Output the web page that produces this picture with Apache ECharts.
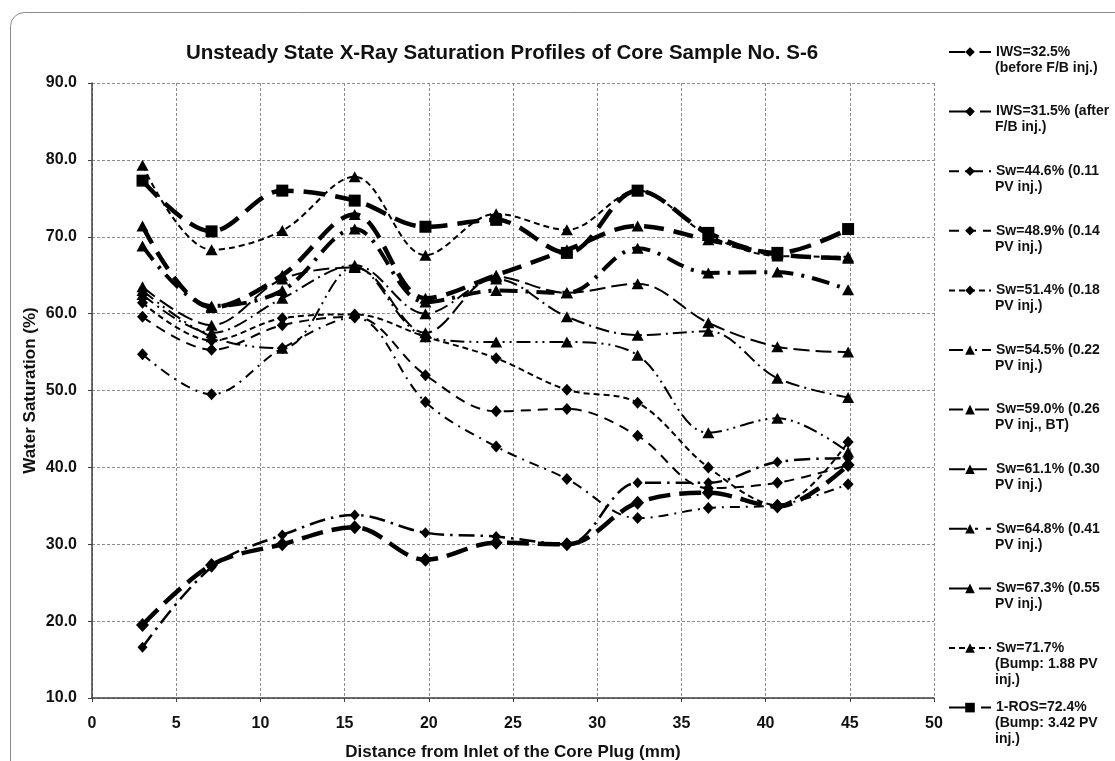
<!DOCTYPE html>
<html>
<head>
<meta charset="utf-8">
<script src="https://cdn.jsdelivr.net/npm/echarts@6/dist/echarts.min.js"></script>
<style>
  html, body { margin: 0; padding: 0; background: #fff; }
  #chart { width: 1115px; height: 761px; }
</style>
</head>
<body>
<div id="chart"></div>
<script>
// Sample positions along the core plug (mm)
const distances = [3.0, 7.1, 11.3, 15.6, 19.8, 24.0, 28.2, 32.4, 36.6, 40.7, 44.9];

// Water saturation (%) per profile
const iws325 = [16.6, 27.0, 31.2, 33.8, 31.5, 31.0, 30.0, 38.0, 38.0, 40.7, 41.2];
const iws315 = [19.5, 27.3, 30.0, 32.2, 28.0, 30.2, 30.0, 35.4, 36.7, 34.9, 40.3];
const sw446  = [54.7, 49.5, 55.5, 59.5, 48.5, 42.7, 38.5, 33.4, 34.7, 35.1, 37.8];
const sw489  = [59.6, 55.3, 58.5, 59.6, 52.0, 47.3, 47.6, 44.1, 37.3, 38.0, 40.3];
const sw514  = [61.4, 56.5, 59.4, 59.9, 57.0, 54.2, 50.1, 48.4, 40.0, 35.1, 43.3];
const sw545  = [63.0, 57.0, 55.5, 66.1, 57.0, 56.3, 56.3, 54.6, 44.5, 46.4, 42.0];
const sw590  = [62.5, 57.5, 62.0, 66.3, 60.0, 64.5, 59.6, 57.2, 57.7, 51.6, 49.1];
const sw611  = [63.5, 58.5, 64.5, 66.0, 57.5, 64.8, 62.7, 63.9, 58.8, 55.7, 55.0];
const sw648  = [68.8, 61.0, 63.0, 71.0, 61.5, 63.0, 62.7, 68.5, 65.3, 65.4, 63.1];
const sw673  = [71.4, 60.8, 65.0, 72.9, 62.0, 65.0, 68.3, 71.4, 69.6, 67.7, 67.2];
const sw717  = [79.3, 68.3, 70.8, 77.8, 67.6, 73.0, 70.9, 76.0, 70.2, 67.5, 67.4];
const ros724 = [77.3, 70.7, 76.0, 74.7, 71.3, 72.2, 67.9, 76.0, 70.5, 67.9, 71.0];

// Series names and their wrapped legend texts
const seriesNames = [
  'IWS=32.5% (before F/B inj.)',
  'IWS=31.5% (after F/B inj.)',
  'Sw=44.6% (0.11 PV inj.)',
  'Sw=48.9% (0.14 PV inj.)',
  'Sw=51.4% (0.18 PV inj.)',
  'Sw=54.5% (0.22 PV inj.)',
  'Sw=59.0% (0.26 PV inj., BT)',
  'Sw=61.1% (0.30 PV inj.)',
  'Sw=64.8% (0.41 PV inj.)',
  'Sw=67.3% (0.55 PV inj.)',
  'Sw=71.7% (Bump: 1.88 PV inj.)',
  '1-ROS=72.4% (Bump: 3.42 PV inj.)'
];
const legendLines = [
  ['IWS=32.5%', '(before F/B inj.)'],
  ['IWS=31.5% (after', 'F/B inj.)'],
  ['Sw=44.6% (0.11', 'PV inj.)'],
  ['Sw=48.9% (0.14', 'PV inj.)'],
  ['Sw=51.4% (0.18', 'PV inj.)'],
  ['Sw=54.5% (0.22', 'PV inj.)'],
  ['Sw=59.0% (0.26', 'PV inj., BT)'],
  ['Sw=61.1% (0.30', 'PV inj.)'],
  ['Sw=64.8% (0.41', 'PV inj.)'],
  ['Sw=67.3% (0.55', 'PV inj.)'],
  ['Sw=71.7%', '(Bump: 1.88 PV', 'inj.)'],
  ['1-ROS=72.4%', '(Bump: 3.42 PV', 'inj.)']
];

const yTicks = [10, 20, 30, 40, 50, 60, 70, 80, 90];
const xTicks = [0, 5, 10, 15, 20, 25, 30, 35, 40, 45, 50];

const profiles = [iws325, iws315, sw446, sw489, sw514, sw545, sw590, sw611, sw648, sw673, sw717, ros724];

// Line/marker styling per profile
const styles = [
  { w: 2.5, dash: [16, 6, 2.5, 6], sym: 'diamond', size: [10, 11] },
  { w: 4.5, dash: [22, 9],          sym: 'diamond', size: [13, 14] },
  { w: 2,   dash: [10, 6, 2, 6],    sym: 'diamond', size: [11, 12] },
  { w: 2,   dash: [10, 7],          sym: 'diamond', size: [11, 12] },
  { w: 2,   dash: [6, 4],           sym: 'diamond', size: [11, 12] },
  { w: 2,   dash: [14, 5, 2, 5, 2, 5], sym: 'triangle', size: [12, 11] },
  { w: 2,   dash: [14, 5, 2, 5],    sym: 'triangle', size: [12, 11] },
  { w: 2,   dash: [16, 6],          sym: 'triangle', size: [12, 11] },
  { w: 4,   dash: [18, 8, 3, 8],    sym: 'triangle', size: [12, 11] },
  { w: 4.5, dash: [20, 10],         sym: 'triangle', size: [12, 11] },
  { w: 2,   dash: [6, 4],           sym: 'triangle', size: [12, 11] },
  { w: 4.5, dash: [22, 10],         sym: 'rect',     size: [12, 12] }
];

const FONT = '"Liberation Sans", Arial, sans-serif';
const LEG_FONT = 14;
const LH = 16;
const LEG_LEFT = 948;
const LEG_ICON_W = 42;
const LEG_TEXT_X = LEG_LEFT + LEG_ICON_W + 5;
const legendRowY = i => 52 + i * 59.6;

const series = profiles.map((vals, i) => ({
  name: seriesNames[i],
  type: 'line',
  smooth: 0.35,
  data: distances.map((d, k) => [d, vals[k]]),
  symbol: styles[i].sym,
  symbolSize: styles[i].size,
  showAllSymbol: true,
  itemStyle: { color: '#000' },
  lineStyle: { color: '#000', width: styles[i].w, type: styles[i].dash },
  emphasis: { disabled: true },
  z: 2 + i
}));

// One legend block per profile: key + first text line
const legends = seriesNames.map((name, i) => ({
  orient: 'vertical',
  left: LEG_LEFT,
  top: legendRowY(i) - LH / 2,
  padding: 0,
  itemWidth: LEG_ICON_W,
  itemHeight: 12,
  selectedMode: false,
  data: [name],
  formatter: () => legendLines[i][0],
  textStyle: { fontFamily: FONT, fontWeight: 'bold', fontSize: LEG_FONT, color: '#111', lineHeight: LH }
}));

// Continuation lines of each legend entry
const legendMore = [];
legendLines.forEach((lines, i) => {
  lines.slice(1).forEach((t, k) => {
    legendMore.push({
      type: 'text', silent: true,
      x: LEG_TEXT_X, y: legendRowY(i) + (k + 1) * LH,
      style: {
        text: t, fill: '#111', verticalAlign: 'middle', align: 'left',
        font: 'bold ' + LEG_FONT + 'px ' + FONT
      }
    });
  });
});

const chart = echarts.init(document.getElementById('chart'), null, { renderer: 'canvas' });
chart.setOption({
  animation: false,
  backgroundColor: '#fff',
  title: {
    text: 'Unsteady State X-Ray Saturation Profiles of Core Sample No. S-6',
    left: 497, top: 38, textAlign: 'center',
    textStyle: { fontFamily: FONT, fontWeight: 'bold', fontSize: 20.5, color: '#111' }
  },
  graphic: [{
    type: 'rect', silent: true, z: -1,
    shape: { x: 10.5, y: 12.5, width: 1130, height: 770, r: 14 },
    style: { fill: 'none', stroke: '#8a8a8a', lineWidth: 1 }
  }].concat(legendMore),
  legend: legends,
  grid: { left: 92, right: 181, top: 83, bottom: 63, containLabel: false, outerBoundsMode: 'none' },
  xAxis: {
    type: 'value', min: xTicks[0], max: xTicks[xTicks.length - 1], interval: 5,
    name: 'Distance from Inlet of the Core Plug (mm)',
    nameLocation: 'middle', nameGap: 46, nameMoveOverlap: false,
    nameTextStyle: { fontFamily: FONT, fontWeight: 'bold', fontSize: 17, color: '#111' },
    axisLine: { lineStyle: { color: '#404040', width: 1.5 } },
    axisTick: { show: true, length: 4, lineStyle: { color: '#404040' } },
    axisLabel: { fontFamily: FONT, fontWeight: 'bold', fontSize: 16, color: '#111', margin: 18 },
    splitLine: { show: true, lineStyle: { color: '#8c8c8c', type: [3, 2], width: 1 } }
  },
  yAxis: {
    type: 'value', min: yTicks[0], max: yTicks[yTicks.length - 1], interval: 10,
    name: 'Water Saturation (%)',
    nameLocation: 'middle', nameGap: 53, nameRotate: 90, nameMoveOverlap: false,
    nameTextStyle: { fontFamily: FONT, fontWeight: 'bold', fontSize: 17, color: '#111' },
    axisLine: { show: true, lineStyle: { color: '#404040', width: 1.5 } },
    axisTick: { show: true, length: 4, lineStyle: { color: '#404040' } },
    axisLabel: {
      fontFamily: FONT, fontWeight: 'bold', fontSize: 16, color: '#111', margin: 15,
      formatter: v => v.toFixed(1)
    },
    splitLine: { show: true, lineStyle: { color: '#8c8c8c', type: [3, 2], width: 1 } }
  },
  series: series
});
</script>
</body>
</html>
